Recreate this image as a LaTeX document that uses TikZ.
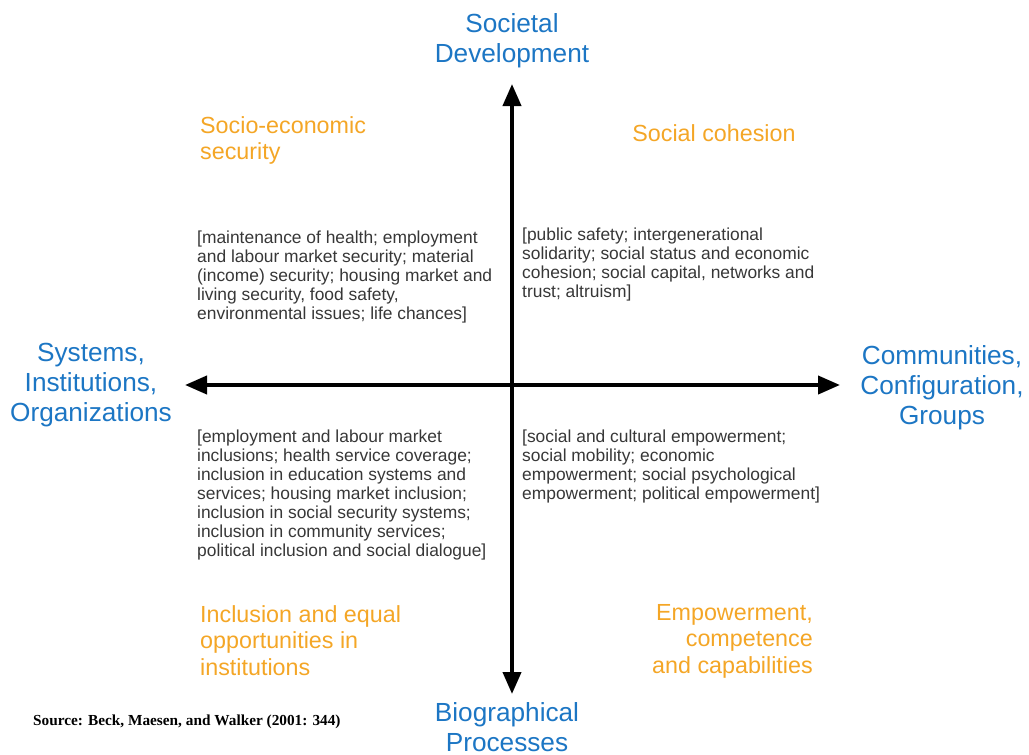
\documentclass[tikz,border=0pt]{standalone}
\usepackage{fontspec}
\setmainfont{Liberation Sans}
\newfontfamily\srcfont{Liberation Serif}
\usetikzlibrary{arrows.meta}
\definecolor{axisblue}{RGB}{28,118,196}
\definecolor{dimorange}{RGB}{244,166,38}
\definecolor{bodygray}{RGB}{55,55,55}
\tikzset{
  axislabel/.style={text=axisblue,font=\fontsize{26.2}{30}\selectfont,align=center,inner sep=0pt},
  dimlabel/.style={text=dimorange,font=\fontsize{23.3}{26.5}\selectfont,inner sep=0pt},
  bodytext/.style={text=bodygray,font=\fontsize{17.4}{19}\selectfont,align=left,inner sep=0pt,anchor=north west},
  axisline/.style={line width=4pt,{Triangle[length=22pt,width=18pt]}-{Triangle[length=22pt,width=18pt]}}
}
\begin{document}
\begin{tikzpicture}[x=1pt,y=-1pt]
\useasboundingbox (0,0) rectangle (1029,755);
\coordinate (top) at (512,84);
\coordinate (bot) at (512,694);
\coordinate (lft) at (185,385);
\coordinate (rgt) at (840,385);
\draw[axisline] (top) -- (bot);
\draw[axisline] (lft) -- (rgt);

\node[axislabel,anchor=north] (sd) at (512,13) {Societal\\Development};
\node[axislabel,anchor=north] (sio) at (91,343) {Systems,\\Institutions,\\Organizations};
\node[axislabel,anchor=north] (ccg) at (942,345) {Communities,\\Configuration,\\Groups};
\node[axislabel,anchor=north] (bp) at (507,702) {Biographical\\Processes};

\node[dimlabel,anchor=north west,align=left] (ses) at (200,116) {Socio-economic\\security};
\node[dimlabel,anchor=north] (sc) at (714,124) {Social cohesion};
\node[dimlabel,anchor=north west,align=left] (ieo) at (200,605) {Inclusion and equal\\opportunities in\\institutions};
\node[dimlabel,anchor=north east,align=right] (ecc) at (813,604) {Empowerment,\\competence\\and capabilities};

\node[bodytext] (tl) at (197,231) {[maintenance of health; employment\\and labour market security; material\\(income) security; housing market and\\living security, food safety,\\environmental issues; life chances]};
\node[bodytext] (tr) at (522,228) {[public safety; intergenerational\\solidarity; social status and economic\\cohesion; social capital, networks and\\trust; altruism]};
\node[bodytext] (bl) at (197,430) {[employment and labour market\\inclusions; health service coverage;\\inclusion in education systems and\\services; housing market inclusion;\\inclusion in social security systems;\\inclusion in community services;\\political inclusion and social dialogue]};
\node[bodytext] (br) at (522,430) {[social and cultural empowerment;\\social mobility; economic\\empowerment; social psychological\\empowerment; political empowerment]};

\node[anchor=base west,inner sep=0pt,font=\srcfont\bfseries\fontsize{15.3}{18}\selectfont] (src) at (33,725) {Source: Beck, Maesen, and Walker (2001: 344)};
\end{tikzpicture}
\end{document}
